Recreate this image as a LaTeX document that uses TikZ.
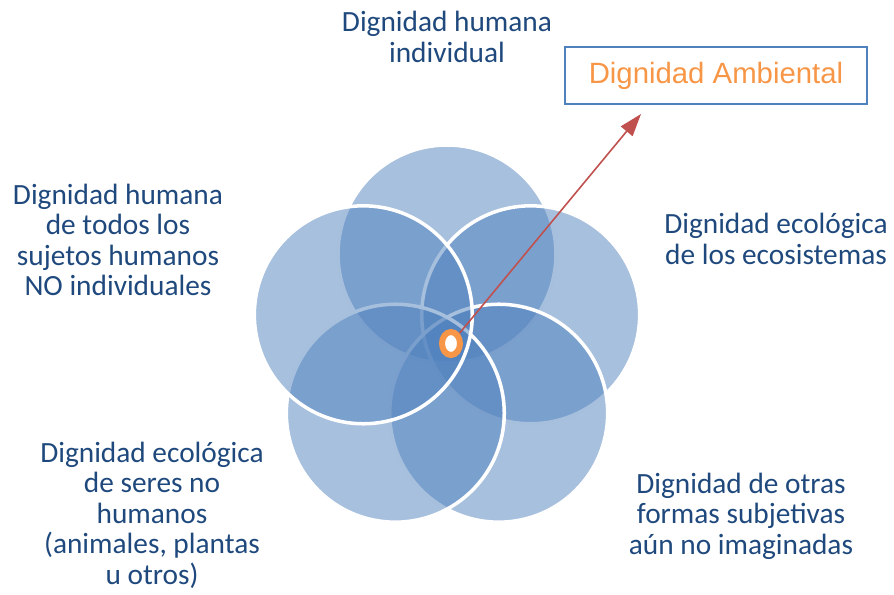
\documentclass[tikz,border=0pt]{standalone}
\usepackage{fontspec}
\setmainfont{Carlito}
\newfontfamily\boxfont{Liberation Sans}
\usetikzlibrary{arrows.meta, shapes.geometric}

\definecolor{petalblue}{RGB}{79,129,189}
\definecolor{labelblue}{RGB}{31,73,125}
\definecolor{coreorange}{RGB}{247,150,70}
\definecolor{arrowred}{RGB}{192,80,77}

\tikzset{> = {Triangle[length=4.5mm, width=3mm]}}
\tikzset{
  petal/.style = {fill=petalblue, fill opacity=0.5, draw=white, draw opacity=1, line width=2pt},
  label/.style = {align=center, text=labelblue, inner sep=0pt, font=\fontsize{16.7}{17.4}\selectfont}
}

\begin{document}
\begin{tikzpicture}[x=0.02cm, y=-0.02cm]
\useasboundingbox (0,0) rectangle (894,595);
% circles
\filldraw[petal] (447,254) circle (2.18cm);     %top
\filldraw[petal] (530.7,314.8) circle (2.18cm); %right
\filldraw[petal] (498.7,413.2) circle (2.18cm); %lower right
\filldraw[petal] (395.3,413.2) circle (2.18cm); %lower left
\filldraw[petal] (363.3,314.8) circle (2.18cm); %upper left
% labels
\node[label] (individual) at (447,37) {Dignidad humana\\individual};
\node[label] (colectiva) at (118,240) {Dignidad humana\\de todos los\\sujetos humanos\\NO individuales};
\node[label] (ecosistemas) at (776,239) {Dignidad ecológica\\de los ecosistemas};
\node[label] (seres) at (152,515) {Dignidad ecológica\\de seres no\\humanos\\(animales, plantas\\u otros)};
\node[label] (otras) at (741,516) {Dignidad de otras\\formas subjetivas\\aún no imaginadas};
% box and centre
\node[draw=petalblue, line width=1.1pt, minimum width=6.04cm, minimum height=1.14cm,
      text=coreorange, font=\boxfont\fontsize{16.7}{20}\selectfont] (ambiental) at (716,75.5) {Dignidad Ambiental};
\coordinate (tip) at (641,114);
\node[ellipse, draw=coreorange, fill=white, line width=3.4pt, inner sep=0pt,
      minimum width=0.36cm, minimum height=0.46cm] (core) at (451,343.5) {};
% edges
\draw[->, arrowred, line width=0.9pt] (core) -- (tip);

\end{tikzpicture}
\end{document}
